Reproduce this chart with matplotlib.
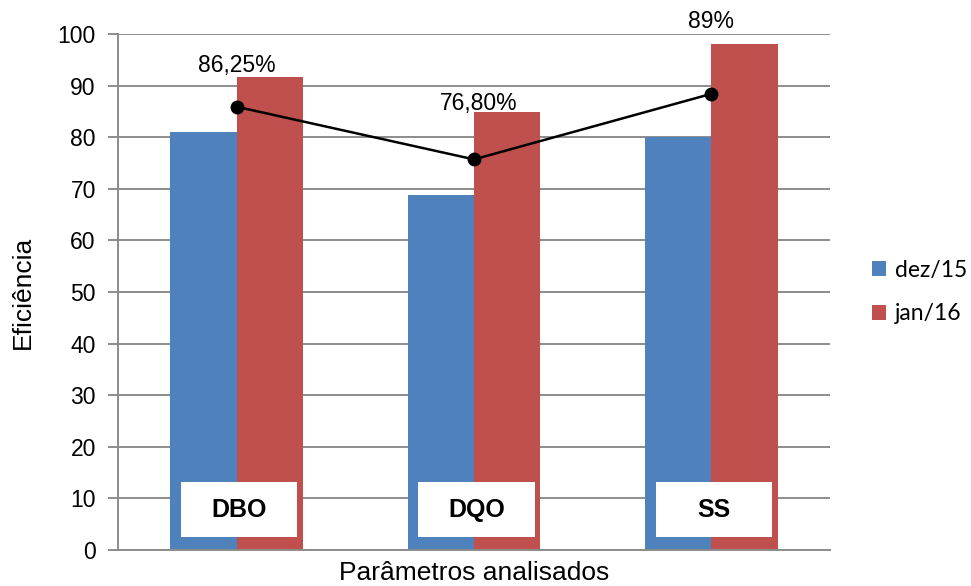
import numpy as np
import matplotlib.pyplot as plt

plt.rcParams['font.family'] = ['Liberation Sans', 'DejaVu Sans']

parametros = ['DBO', 'DQO', 'SS']
dez15 = [81.0, 68.8, 80.0]
jan16 = [91.7, 84.9, 98.1]
eficiencia_media = [85.9, 75.7, 88.4]
rotulos_media = ['86,25%', '76,80%', '89%']
# altura dos rotulos (colocados a mao no original)
rotulos_y = [93.8, 86.6, 102.5]

fig = plt.figure(figsize=(9.71, 5.86), dpi=100)
ax = fig.add_axes([0.1215, 0.0614, 0.7333, 0.8806])

x = np.arange(len(parametros))
w = 0.28
ax.bar(x - w/2, dez15, w, color='#4F81BD', label='dez/15', zorder=2)
ax.bar(x + w/2, jan16, w, color='#C0504D', label='jan/16', zorder=2)

ax.plot(x, eficiencia_media, color='black', lw=1.8, marker='o', ms=9, zorder=4)
for xi, yl, txt in zip([0.0, 1.02, 2.0], rotulos_y, rotulos_media):
    ax.text(xi, yl, txt, ha='center', va='center', fontsize=16.5, clip_on=False, zorder=5)

# caixas com nome do parametro
for xi, nome in zip(x, parametros):
    ax.add_patch(plt.Rectangle((xi + 0.01 - 0.245, 2.5), 0.49, 10.7,
                               facecolor='white', edgecolor='none', zorder=3))
    ax.text(xi + 0.01, 7.7, nome, ha='center', va='center', fontsize=18,
            fontweight='bold', zorder=5)

ax.set_xlim(-0.5, 2.5)
ax.set_ylim(0, 100)
ax.set_yticks(range(0, 101, 10))
ax.set_xticks([])
ax.yaxis.grid(True, color='#8c8c8c', lw=1.4)
ax.set_axisbelow(True)
for s in ['top', 'right']:
    ax.spines[s].set_visible(False)
for s in ['left', 'bottom']:
    ax.spines[s].set_color('#8c8c8c')
    ax.spines[s].set_linewidth(1.4)
ax.tick_params(axis='y', labelsize=16.5, length=7, width=1.4, color='#8c8c8c', pad=9)

ax.set_ylabel('Eficiência', fontsize=19, labelpad=16)
ax.set_xlabel('Parâmetros analisados', fontsize=19, labelpad=8)

leg = ax.legend(loc='center left', bbox_to_anchor=(1.03, 0.5), frameon=False,
                prop={'family': 'Lato', 'size': 16.5}, handlelength=0.6, handleheight=0.6,
                handletextpad=0.4, labelspacing=1.0)

fig.savefig('out.png', dpi=100)
